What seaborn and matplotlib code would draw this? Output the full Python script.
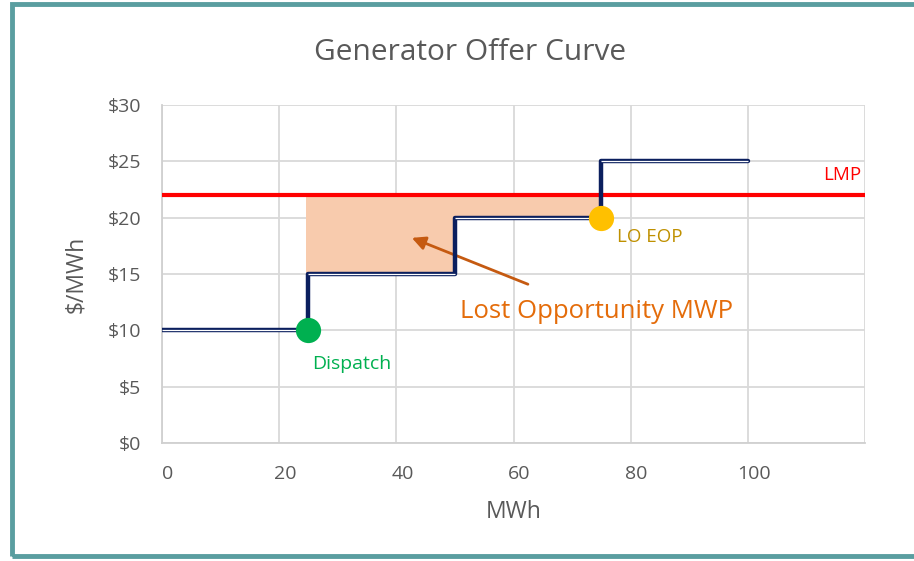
import matplotlib
matplotlib.use('Agg')
import matplotlib.pyplot as plt
import matplotlib.transforms as mtransforms
from matplotlib.patches import Rectangle
import seaborn as sns
import numpy as np

# offer curve (step edges) and prices
mw = [0, 25, 50, 75, 100]
price = [10, 15, 20, 25, 25]
lmp = 22
dispatch_mw, dispatch_price = 25, 10
eop_mw, eop_price = 75, 20
fill_mw = [24.5, 25, 50, 75]
fill_low = [15, 15, 20, 20]
xticks = [0, 20, 40, 60, 80, 100]
yticks = [0, 5, 10, 15, 20, 25, 30]
ytick_labels = ['$0', '$5', '$10', '$15', '$20', '$25', '$30']

navy = '#0b1f5e'
grey_txt = '#595959'

sns.set_style('white')
plt.rcParams['font.family'] = ['Open Sans', 'DejaVu Sans']

fig = plt.figure(figsize=(9.14, 5.61), dpi=100)
fig.patches.append(Rectangle((12 / 914, 5 / 561), 1.0, 552 / 561, transform=fig.transFigure,
                             fill=False, edgecolor='#5a9ea0', linewidth=3.5, zorder=0))
ax = fig.add_axes([162 / 914, 1 - 443 / 561, (865 - 162) / 914, (443 - 105) / 561])

ax.fill_between(fill_mw, fill_low, lmp, step='post', color='#f8cbad', linewidth=0, zorder=1)
ax.axhline(lmp, color='#ff0000', linewidth=3, zorder=3)

sns.lineplot(x=mw, y=price, drawstyle='steps-post', color=navy, linewidth=3.2,
             estimator=None, ax=ax, zorder=4)
ax.hlines(price[:-1], mw[:-1], mw[1:], color='white', linewidth=0.9, zorder=5)

sns.scatterplot(x=[dispatch_mw], y=[dispatch_price], color='#00b050', s=330,
                linewidth=0, ax=ax, zorder=6)
sns.scatterplot(x=[eop_mw], y=[eop_price], color='#ffc000', s=330,
                linewidth=0, ax=ax, zorder=6)

ax.text(25.6, 7.0, 'Dispatch', color='#00b050', fontsize=14, va='center', ha='left')
ax.text(77.6, 18.3, 'LO EOP', color='#bf9000', fontsize=13.5, va='center', ha='left')
ax.text(119.3, 23.8, 'LMP', color='#ff0000', fontsize=13.5, va='center', ha='right')
ax.text(50.8, 11.7, 'Lost Opportunity MWP', color='#e46c0a', fontsize=18.5, va='center', ha='left')
ax.annotate('', xy=(42.2, 18.3), xytext=(62.9, 14.0),
            arrowprops=dict(arrowstyle='-|>', color='#c55a11', lw=2, mutation_scale=20))

ax.set_xlim(0, 120)
ax.set_ylim(0, 30)
ax.set_xticks(list(range(0, 121, 20)))
ax.set_xticklabels([str(t) for t in xticks] + [''])
ax.set_yticks(yticks)
ax.set_yticklabels(ytick_labels)
ax.grid(True, color='#d9d9d9', linewidth=1.3)
ax.set_axisbelow(True)
for s in ['top', 'right']:
    ax.spines[s].set_visible(False)
for s in ['left', 'bottom']:
    ax.spines[s].set_color('#d0d0d0')
    ax.spines[s].set_linewidth(1.3)
ax.tick_params(axis='both', length=0, labelsize=14, labelcolor=grey_txt)
ax.tick_params(axis='x', pad=16)
ax.tick_params(axis='y', pad=15)
off = mtransforms.ScaledTranslation(6 / 100, 0, fig.dpi_scale_trans)
for lab in ax.get_xticklabels():
    lab.set_transform(lab.get_transform() + off)

ax.set_xlabel('MWh', fontsize=16.5, color=grey_txt, labelpad=12)
ax.set_ylabel('$/MWh', fontsize=16.5, color=grey_txt, labelpad=14)
fig.text(470 / 914, 1 - 52 / 561, 'Generator Offer Curve', fontsize=21.5, color=grey_txt,
         ha='center', va='center')

fig.savefig('out.png', dpi=100, facecolor='white')
